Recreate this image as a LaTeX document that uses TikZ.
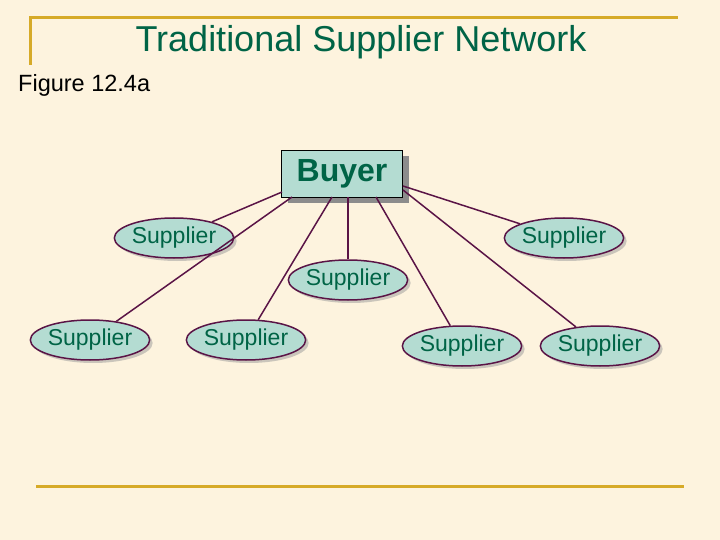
\documentclass[tikz,border=0pt]{standalone}
\usepackage{fontspec}
\setmainfont{Liberation Sans}
\usetikzlibrary{shapes.geometric,shadows}
\definecolor{bg}{RGB}{253,243,222}
\definecolor{gold}{RGB}{214,170,40}
\definecolor{tgreen}{RGB}{0,100,70}
\definecolor{fillc}{RGB}{180,220,210}
\definecolor{purp}{RGB}{90,20,70}
\tikzset{
 sup/.style={ellipse,draw=purp,line width=1.5pt,fill=fillc,minimum width=92pt,minimum height=40pt,inner sep=0pt,font=\fontsize{23}{25}\selectfont,text=tgreen,drop shadow={shadow xshift=3pt,shadow yshift=-3pt,fill=gray!80}},
 link/.style={draw=purp,line width=1.5pt},
 gl/.style={draw=gold,line width=3pt}
}
\begin{document}
\begin{tikzpicture}[x=1pt,y=-1pt]
\fill[bg] (0,0) rectangle (720,540);
\useasboundingbox (0,0) rectangle (720,540);
\draw[gl] (30,65) -- (30,18) -- (678,18);
\draw[gl] (36,486) -- (684,486);
\node (title) at (361,42) {\fontsize{36}{40}\selectfont\color{tgreen}Traditional Supplier Network};
\node[anchor=west,inner sep=0pt] (fig) at (18,85) {\fontsize{23.5}{26}\selectfont Figure 12.4a};
\coordinate (bc) at (342,174);
\node[sup] (s1) at (174,238) {Supplier};
\node[sup] (s2) at (564,238) {Supplier};
\node[sup] (s3) at (348,280) {Supplier};
\node[sup] (s4) at (90,340) {Supplier};
\node[sup] (s5) at (246,340) {Supplier};
\node[sup] (s6) at (462,346) {Supplier};
\node[sup] (s7) at (600,346) {Supplier};
\node[draw=black,line width=1.5pt,fill=fillc,minimum width=121pt,minimum height=47pt,font=\bfseries\fontsize{32}{34}\selectfont,text=tgreen,drop shadow={shadow xshift=6pt,shadow yshift=-6pt,fill=gray!90,opacity=1}] (buyer) at (bc) {Buyer};
\draw[link] (282,192) -- (s1);
\draw[link] (292,197) -- (s4);
\draw[link] (332,197) -- (s5);
\draw[link] (348,197) -- (s3);
\draw[link] (376,197) -- (s6);
\draw[link] (403,190) -- (s7);
\draw[link] (403,186) -- (s2);
\end{tikzpicture}
\end{document}
